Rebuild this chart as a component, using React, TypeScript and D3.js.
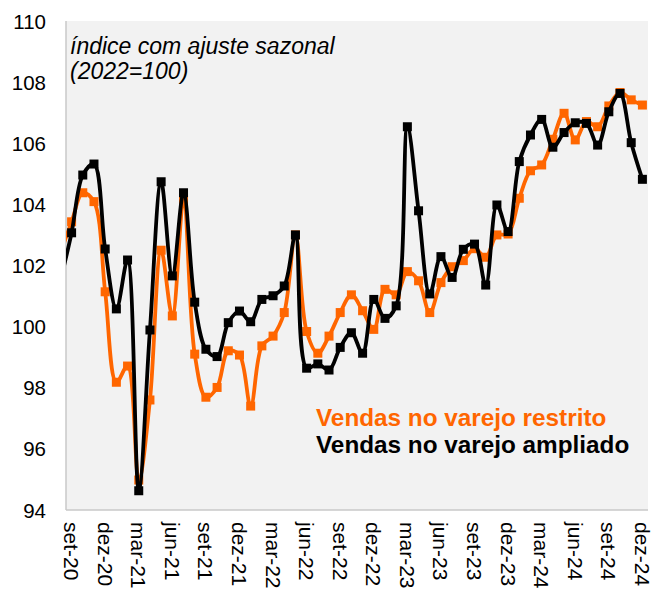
import React from "react";
import * as d3 from "d3";

// Months from ago-20 (index 0) to dez-24 (index 52)
const monthNames = ["jan", "fev", "mar", "abr", "mai", "jun", "jul", "ago", "set", "out", "nov", "dez"];
const startYear = 2020;
const startMonth = 7; // ago (0-based)

const restrito = [
  102.4, 103.43, 104.38, 104.09, 101.14, 98.18, 98.71, 94.98, 97.6, 102.5, 100.35, 104.14, 99.1,
  97.69, 98.01, 99.21, 99.07, 97.4, 99.37, 99.69, 100.46, 103.0, 99.84, 99.13, 99.69, 100.46,
  101.04, 100.52, 99.91, 101.22, 101.04, 101.8, 101.5, 100.46, 101.44, 101.96, 102.16, 102.55,
  102.27, 103.0, 103.03, 104.2, 105.1, 105.29, 106.13, 106.98, 106.11, 106.71, 106.54, 107.22,
  107.66, 107.42, 107.25,
];

const ampliado = [
  101.5, 103.07, 104.96, 105.32, 102.54, 100.58, 102.18, 94.63, 99.89, 104.74, 101.66, 104.38, 100.8,
  99.26, 99.02, 100.13, 100.51, 100.16, 100.89, 101.01, 101.33, 103.0, 98.64, 98.78, 98.58, 99.32,
  99.8, 99.13, 100.89, 100.27, 100.68, 106.54, 103.79, 101.07, 102.29, 101.61, 102.53, 102.7,
  101.36, 103.98, 103.11, 105.4, 106.27, 106.78, 105.87, 106.35, 106.67, 106.65, 105.94, 107.03,
  107.63, 106.02, 104.82,
];

const yTicks = [94, 96, 98, 100, 102, 104, 106, 108, 110];
const subtitle = ["índice com ajuste sazonal", "(2022=100)"];
const legendLabels = ["Vendas no varejo restrito", "Vendas no varejo ampliado"];

const monthLabel = (k: number) => {
  const m = startMonth + k;
  const y = startYear + Math.floor(m / 12);
  return `${monthNames[m % 12]}-${String(y).slice(2)}`;
};

const months = restrito.map((_, k) => monthLabel(k));
// tick labels every 3 months starting at set-20 (index 1 in arrays)
const tickIdx = months.map((_, k) => k).filter((k) => k >= 1 && (k - 1) % 3 === 0);

export default function App() {
  const W = 651;
  const H = 594;
  const left = 66;
  const right = 648;
  const top = 21;
  const bottom = 510;

  const x = d3.scaleLinear().domain([0.5, restrito.length - 0.5]).range([left, right]);
  const y = d3.scaleLinear().domain([94, 110]).range([bottom, top]);

  const line = d3
    .line<number>()
    .x((_, i) => x(i))
    .y((d) => y(d))
    .curve(d3.curveCatmullRom.alpha(0.5));

  const orange = "#ff6600";
  const ms = 9;
  const font = "Liberation Sans, Arial, sans-serif";

  return (
    <svg width={W} height={H} style={{ position: "absolute", left: 0, top: 0 }} fontFamily={font}>
      <defs>
        <clipPath id="plotclip">
          <rect x={left} y={top} width={right - left} height={bottom - top} />
        </clipPath>
      </defs>
      <rect x={0} y={0} width={W} height={H} fill="#ffffff" />
      <rect x={left} y={top} width={right - left} height={bottom - top} fill="#f2f2f2" />
      <line x1={left} y1={top} x2={left} y2={bottom} stroke="#c8c8c8" strokeWidth={1.5} />
      <line x1={left} y1={bottom} x2={right} y2={bottom} stroke="#c8c8c8" strokeWidth={1.5} />

      {yTicks.map((t) => (
        <text key={t} x={46} y={y(t)} textAnchor="end" dominantBaseline="central" fontSize={20.5} fill="#000">
          {t}
        </text>
      ))}

      {tickIdx.map((k) => (
        <text
          key={k}
          transform={`translate(${x(k)},${522}) rotate(90)`}
          textAnchor="start"
          dominantBaseline="central"
          fontSize={21}
          fill="#000"
        >
          {months[k]}
        </text>
      ))}

      <g clipPath="url(#plotclip)">
        <path d={line(restrito) || ""} fill="none" stroke={orange} strokeWidth={3.8} strokeLinejoin="round" />
        {restrito.map((d, i) => (
          <rect key={"o" + i} x={x(i) - ms / 2} y={y(d) - ms / 2} width={ms} height={ms} fill={orange} />
        ))}
        <path d={line(ampliado) || ""} fill="none" stroke="#000" strokeWidth={3.8} strokeLinejoin="round" />
        {ampliado.map((d, i) => (
          <rect key={"b" + i} x={x(i) - ms / 2} y={y(d) - ms / 2} width={ms} height={ms} fill="#000" />
        ))}
      </g>

      <text x={70} y={54} fontSize={23} fontStyle="italic" fill="#000">
        {subtitle[0]}
      </text>
      <text x={70} y={79} fontSize={23} fontStyle="italic" fill="#000">
        {subtitle[1]}
      </text>

      <text x={316} y={426} fontSize={24.3} fontWeight="bold" fill={orange}>
        {legendLabels[0]}
      </text>
      <text x={316} y={453} fontSize={24.3} fontWeight="bold" fill="#000">
        {legendLabels[1]}
      </text>
    </svg>
  );
}
